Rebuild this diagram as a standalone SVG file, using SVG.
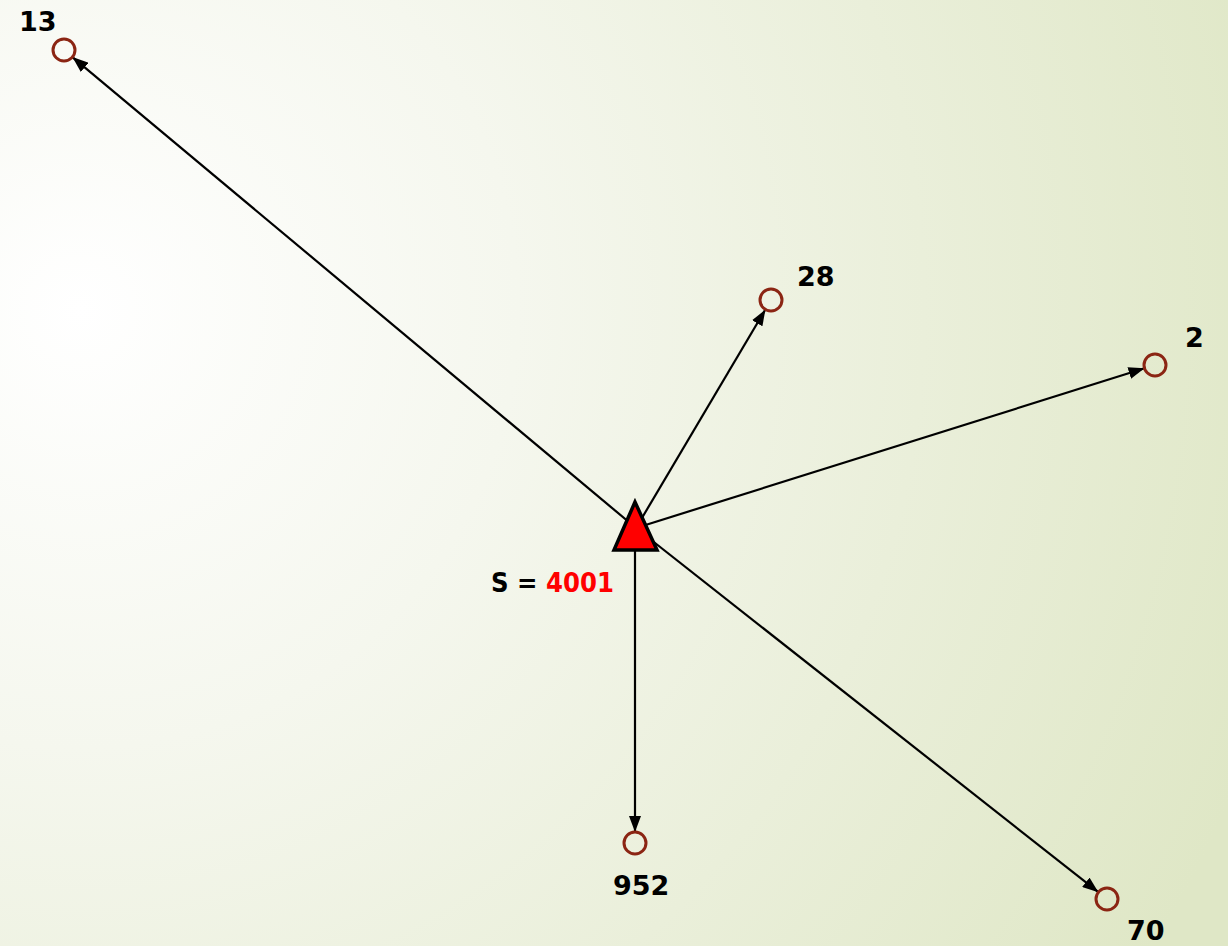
<svg xmlns="http://www.w3.org/2000/svg" width="1228" height="946" viewBox="0 0 1228 946">
<defs>
<radialGradient id="bg" gradientUnits="userSpaceOnUse" cx="80" cy="310" r="1250">
<stop offset="0" stop-color="#ffffff"/>
<stop offset="0.35" stop-color="#f5f7ee"/>
<stop offset="1" stop-color="#dfe7c6"/>
</radialGradient>
<marker id="arr" viewBox="0 0 16 12" refX="16" refY="6" markerWidth="16" markerHeight="12" markerUnits="userSpaceOnUse" orient="auto">
<path d="M0,0 L16,6 L0,12 Z" fill="#000"/>
</marker>
<style>
.edge{stroke:#000;stroke-width:2.2;fill:none;marker-end:url(#arr)}
.node{fill:none;stroke:#8b2513;stroke-width:3}
.lbl{font-family:"DejaVu Sans","Liberation Sans",sans-serif;font-weight:bold;font-size:27px;fill:#000}
</style>
</defs>
<rect width="1228" height="946" fill="url(#bg)"/>
<g id="connectors">
<line class="edge" x1="636" y1="528" x2="72.4" y2="57.1"/>
<line class="edge" x1="636" y1="528" x2="765.4" y2="309.5"/>
<line class="edge" x1="636" y1="528" x2="1144.5" y2="368.3"/>
<line class="edge" x1="635" y1="549" x2="635" y2="832"/>
<line class="edge" x1="636" y1="528" x2="1098.4" y2="892.2"/>
</g>
<g id="node-13"><circle class="node" cx="64" cy="50" r="11"/><text class="lbl" x="19" y="31">13</text></g>
<g id="node-28"><circle class="node" cx="771" cy="300" r="11"/><text class="lbl" x="797" y="286">28</text></g>
<g id="node-2"><circle class="node" cx="1155" cy="365" r="11"/><text class="lbl" x="1185" y="347">2</text></g>
<g id="node-952"><circle class="node" cx="635" cy="843" r="11"/><text class="lbl" x="613" y="895">952</text></g>
<g id="node-70"><circle class="node" cx="1107" cy="899" r="11"/><text class="lbl" x="1127" y="940">70</text></g>
<g id="source">
<polygon points="635,502 614,550 657,550" fill="#ff0000" stroke="#000" stroke-width="3.5" stroke-linejoin="miter"/>
<text class="lbl" x="491" y="592" textLength="123" lengthAdjust="spacingAndGlyphs">S = <tspan fill="#ff0000">4001</tspan></text>
</g>
</svg>
